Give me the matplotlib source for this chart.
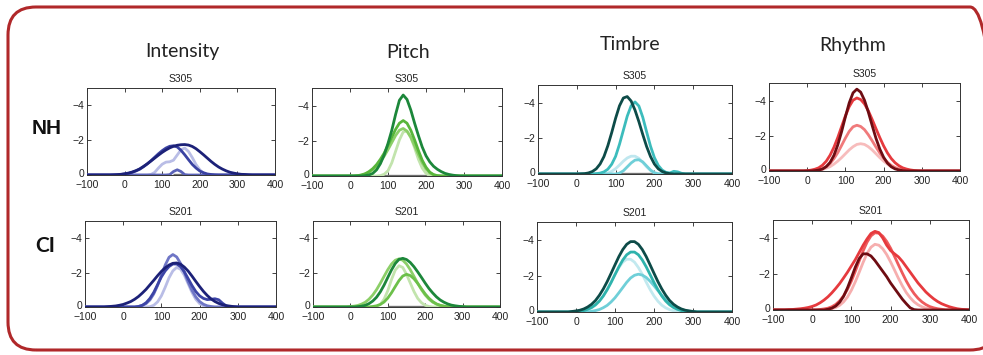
import matplotlib
matplotlib.use("Agg")
import matplotlib.pyplot as plt
from matplotlib.patches import FancyBboxPatch
from matplotlib.transforms import IdentityTransform, ScaledTranslation

# ---------------- data ----------------
X = list(range(-100, 410, 10))  # latency (ms)
Z10 = [0] * 10

COLUMNS = ["Intensity", "Pitch", "Timbre", "Rhythm"]
ROWS = ["NH", "CI"]
SUBJECTS = ["S305", "S201"]

# Intensity, NH (S305): light -> dark
I_NH_1 = Z10 + [0, 0, 0, 0, 0, 0, 0, 0.03, 0.15, 0.4] + [0.62, 0.74, 0.76, 0.85, 1.15, 1.45, 1.55, 1.35, 1.0, 0.6] + [0.3, 0.1, 0.02, 0, 0, 0, 0, 0, 0, 0] + Z10 + [0]
I_NH_2 = Z10 + Z10 + [0, 0, 0.02, 0.2, 0.3, 0.2, 0.02, 0, 0, 0] + Z10 + Z10 + [0]
I_NH_3 = [0, 0, 0, 0, 0, 0, 0, 0, 0.01, 0.03] + [0.06, 0.09, 0.15, 0.23, 0.33, 0.47, 0.63, 0.82, 1.02, 1.22] + [1.40, 1.55, 1.65, 1.68, 1.61, 1.42, 1.16, 0.88, 0.61, 0.40] + [0.23, 0.13, 0.06, 0.03, 0.01, 0, 0, 0, 0, 0] + Z10 + [0]
I_NH_4 = [0, 0, 0, 0, 0, 0, 0, 0.01, 0.02, 0.04] + [0.07, 0.11, 0.17, 0.25, 0.35, 0.49, 0.64, 0.8, 0.97, 1.14] + [1.3, 1.44, 1.56, 1.65, 1.71, 1.74, 1.75, 1.72, 1.64, 1.51] + [1.34, 1.16, 0.97, 0.78, 0.61, 0.46, 0.34, 0.24, 0.16, 0.11] + [0.07, 0.04, 0.03, 0.01, 0, 0, 0, 0, 0, 0] + [0]

# Intensity, CI (S201)
I_CI_1 = Z10 + [0, 0, 0, 0, 0, 0, 0, 0.02, 0.1, 0.3] + [0.65, 1.15, 1.7, 2.1, 2.3, 2.2, 1.85, 1.35, 0.85, 0.45] + [0.2, 0.07, 0.02, 0, 0, 0, 0, 0, 0, 0] + Z10 + [0]
I_CI_2 = Z10 + [0, 0, 0, 0, 0.03, 0.09, 0.2, 0.41, 0.76, 1.25] + [1.85, 2.44, 2.89, 3.05, 2.91, 2.54, 2.02, 1.46, 0.97, 0.59] + [0.32, 0.16, 0.07, 0.03, 0, 0, 0, 0, 0, 0] + Z10 + [0]
I_CI_3 = Z10 + [0, 0, 0, 0, 0.03, 0.1, 0.25, 0.5, 0.85, 1.3] + [1.75, 2.1, 2.35, 2.5, 2.5, 2.35, 2.05, 1.65, 1.25, 0.9] + [0.65, 0.5, 0.43, 0.45, 0.48, 0.42, 0.22, 0.06, 0.01, 0] + Z10 + [0]
I_CI_4 = [0, 0, 0, 0, 0, 0, 0.02, 0.04, 0.06, 0.10] + [0.15, 0.23, 0.32, 0.45, 0.61, 0.81, 1.03, 1.29, 1.55, 1.82] + [2.07, 2.28, 2.44, 2.54, 2.56, 2.49, 2.32, 2.09, 1.80, 1.49] + [1.19, 0.91, 0.67, 0.47, 0.32, 0.21, 0.13, 0.08, 0.05, 0.02] + Z10 + [0]

# Pitch, NH
P_NH_1 = Z10 + [0, 0, 0, 0, 0, 0, 0, 0, 0.02, 0.1] + [0.3, 0.75, 1.4, 2.05, 2.5, 2.55, 2.2, 1.6, 0.95, 0.45] + [0.15, 0.03, 0, 0, 0, 0, 0, 0, 0, 0] + Z10 + [0]
P_NH_2 = Z10 + [0, 0, 0.02, 0.05, 0.11, 0.21, 0.36, 0.56, 0.82, 1.13] + [1.5, 1.9, 2.3, 2.6, 2.7, 2.55, 2.2, 1.72, 1.22, 0.76] + [0.4, 0.17, 0.06, 0.01, 0, 0, 0, 0, 0, 0] + Z10 + [0]
P_NH_3 = Z10 + [0, 0, 0.02, 0.06, 0.13, 0.25, 0.42, 0.65, 0.95, 1.3] + [1.75, 2.2, 2.65, 3.0, 3.15, 3.0, 2.6, 2.05, 1.45, 0.9] + [0.5, 0.22, 0.08, 0.02, 0, 0, 0, 0, 0, 0] + Z10 + [0]
P_NH_4 = Z10 + [0, 0, 0, 0, 0.02, 0.06, 0.15, 0.35, 0.7, 1.2] + [1.85, 2.6, 3.5, 4.3, 4.6, 4.35, 3.75, 3.0, 2.3, 1.65] + [1.15, 0.8, 0.55, 0.38, 0.25, 0.15, 0.09, 0.05, 0.02, 0] + Z10 + [0]

# Pitch, CI
P_CI_1 = Z10 + [0, 0, 0, 0, 0, 0, 0, 0.03, 0.15, 0.45] + [0.95, 1.6, 2.15, 2.4, 2.3, 1.9, 1.4, 0.9, 0.5, 0.25] + [0.1, 0.03, 0, 0, 0, 0, 0, 0, 0, 0] + Z10 + [0]
P_CI_2 = Z10 + [0.03, 0.05, 0.09, 0.17, 0.28, 0.46, 0.70, 1.01, 1.38, 1.78] + [2.17, 2.50, 2.72, 2.8, 2.72, 2.50, 2.17, 1.78, 1.38, 1.01] + [0.70, 0.46, 0.28, 0.17, 0.09, 0.05, 0.02, 0, 0, 0] + Z10 + [0]
P_CI_3 = Z10 + [0, 0, 0, 0, 0, 0, 0.03, 0.07, 0.15, 0.29] + [0.52, 0.83, 1.19, 1.54, 1.80, 1.9, 1.83, 1.64, 1.37, 1.06] + [0.76, 0.51, 0.32, 0.18, 0.10, 0.05, 0.02, 0, 0, 0] + Z10 + [0]
P_CI_4 = Z10 + [0, 0, 0.02, 0.05, 0.10, 0.20, 0.35, 0.57, 0.88, 1.27] + [1.72, 2.16, 2.53, 2.77, 2.83, 2.76, 2.59, 2.34, 2.04, 1.72] + [1.39, 1.08, 0.82, 0.59, 0.41, 0.28, 0.18, 0.11, 0.07, 0.04] + [0.02, 0, 0, 0, 0, 0, 0, 0, 0, 0] + [0]

# Timbre, NH
T_NH_1 = Z10 + [0, 0, 0, 0, 0, 0, 0, 0, 0.05, 0.15] + [0.3, 0.5, 0.72, 0.9, 1.0, 1.0, 0.88, 0.65, 0.4, 0.2] + [0.07, 0.02, 0, 0, 0, 0, 0, 0, 0, 0] + Z10 + [0]
T_NH_2 = Z10 + Z10 + [0, 0.05, 0.18, 0.4, 0.62, 0.78, 0.8, 0.68, 0.45, 0.22] + [0.07, 0.01, 0, 0, 0, 0, 0, 0, 0, 0] + Z10 + [0]
T_NH_3 = Z10 + [0, 0, 0, 0, 0, 0.02, 0.05, 0.12, 0.27, 0.55] + [0.99, 1.67, 2.46, 3.25, 3.83, 4.05, 3.82, 3.19, 2.36, 1.56] + [0.92, 0.48, 0.22, 0.09, 0.06, 0.15, 0.12, 0.04, 0, 0] + Z10 + [0]
T_NH_4 = Z10 + [0, 0.01, 0.02, 0.06, 0.14, 0.29, 0.56, 0.98, 1.59, 2.33] + [3.13, 3.83, 4.27, 4.35, 4.10, 3.59, 2.94, 2.22, 1.54, 0.98] + [0.56, 0.29, 0.14, 0.06, 0.02, 0, 0, 0, 0, 0] + Z10 + [0]

# Timbre, CI
T_CI_1 = Z10 + [0.02, 0.03, 0.07, 0.13, 0.23, 0.38, 0.60, 0.89, 1.25, 1.66] + [2.09, 2.47, 2.77, 2.93, 2.93, 2.77, 2.47, 2.09, 1.66, 1.25] + [0.89, 0.60, 0.38, 0.23, 0.13, 0.07, 0.03, 0.01, 0, 0] + Z10 + [0]
T_CI_2 = Z10 + [0, 0, 0, 0, 0.04, 0.08, 0.14, 0.24, 0.37, 0.56] + [0.79, 1.07, 1.36, 1.65, 1.89, 2.04, 2.1, 2.05, 1.92, 1.71] + [1.46, 1.19, 0.93, 0.69, 0.49, 0.34, 0.22, 0.14, 0.08, 0.05] + [0.02, 0, 0, 0, 0, 0, 0, 0, 0, 0] + [0]
T_CI_3 = Z10 + [0, 0.04, 0.08, 0.15, 0.25, 0.40, 0.61, 0.89, 1.24, 1.64] + [2.08, 2.51, 2.89, 3.18, 3.33, 3.33, 3.18, 2.89, 2.51, 2.08] + [1.64, 1.24, 0.89, 0.61, 0.40, 0.25, 0.15, 0.08, 0.04, 0.02] + Z10 + [0]
T_CI_4 = [0, 0, 0, 0, 0, 0, 0, 0, 0, 0.03] + [0.06, 0.10, 0.17, 0.28, 0.43, 0.64, 0.93, 1.28, 1.69, 2.15] + [2.62, 3.08, 3.47, 3.76, 3.91, 3.91, 3.76, 3.47, 3.08, 2.62] + [2.15, 1.69, 1.28, 0.93, 0.64, 0.43, 0.28, 0.17, 0.10, 0.06] + [0.03, 0, 0, 0, 0, 0, 0, 0, 0, 0] + [0]

# Rhythm, NH
R_NH_1 = Z10 + [0, 0, 0.03, 0.05, 0.09, 0.16, 0.25, 0.39, 0.56, 0.76] + [0.98, 1.20, 1.38, 1.51, 1.55, 1.51, 1.38, 1.20, 0.98, 0.76] + [0.56, 0.39, 0.25, 0.16, 0.09, 0.05, 0.03, 0, 0, 0] + Z10 + [0]
R_NH_2 = Z10 + [0, 0, 0.03, 0.07, 0.14, 0.25, 0.43, 0.70, 1.04, 1.45] + [1.87, 2.25, 2.51, 2.6, 2.53, 2.35, 2.06, 1.72, 1.36, 1.02] + [0.73, 0.50, 0.32, 0.20, 0.11, 0.06, 0.03, 0, 0, 0] + Z10 + [0]
R_NH_3 = Z10 + [0.02, 0.05, 0.10, 0.18, 0.33, 0.56, 0.90, 1.35, 1.90, 2.52] + [3.13, 3.66, 4.02, 4.15, 4.06, 3.81, 3.42, 2.93, 2.41, 1.90] + [1.43, 1.03, 0.71, 0.47, 0.30, 0.18, 0.11, 0.06, 0.03, 0.01] + Z10 + [0]
R_NH_4 = Z10 + [0, 0, 0.02, 0.05, 0.11, 0.25, 0.49, 0.89, 1.48, 2.23] + [3.08, 3.87, 4.44, 4.65, 4.48, 4.02, 3.35, 2.59, 1.86, 1.25] + [0.78, 0.45, 0.24, 0.12, 0.06, 0.02, 0, 0, 0, 0] + Z10 + [0]

# Rhythm, CI
R_CI_1 = Z10 + [0, 0, 0, 0, 0, 0.07, 0.14, 0.26, 0.45, 0.72] + [1.10, 1.57, 2.10, 2.65, 3.14, 3.49, 3.65, 3.60, 3.40, 3.08] + [2.67, 2.22, 1.76, 1.34, 0.97, 0.68, 0.45, 0.29, 0.18, 0.10] + [0.06, 0.02, 0, 0, 0, 0, 0, 0, 0, 0] + [0]
R_CI_2 = Z10 + [0, 0, 0.03, 0.06, 0.10, 0.18, 0.31, 0.51, 0.78, 1.15] + [1.61, 2.15, 2.73, 3.29, 3.77, 4.12, 4.29, 4.27, 4.10, 3.81] + [3.43, 2.98, 2.51, 2.05, 1.61, 1.23, 0.91, 0.65, 0.45, 0.30] + [0.19, 0.12, 0.07, 0.04, 0, 0, 0, 0, 0, 0] + [0]
R_CI_3 = [0, 0, 0, 0, 0.02, 0.03, 0.05, 0.07, 0.10, 0.14] + [0.2, 0.28, 0.4, 0.55, 0.73, 0.95, 1.2, 1.47, 1.78, 2.1] + [2.45, 2.8, 3.2, 3.6, 3.95, 4.25, 4.37, 4.3, 4.0, 3.6] + [3.3, 3.12, 2.95, 2.7, 2.4, 2.1, 1.8, 1.5, 1.25, 1.0] + [0.8, 0.62, 0.47, 0.35, 0.26, 0.18, 0.12, 0.07, 0.04, 0.02] + [0]
R_CI_4 = Z10 + [0, 0, 0, 0, 0.04, 0.10, 0.22, 0.43, 0.76, 1.23] + [1.79, 2.38, 2.86, 3.12, 3.12, 3.0, 2.75, 2.45, 2.15, 1.85] + [1.5, 1.2, 0.9, 0.6, 0.35, 0.12, 0.02, 0, 0, 0] + Z10 + [0]

# grey window on the baseline (start, end) per panel; None = no window
WIN_NH = [(129, 156), (87, 203), (111, 196), None]
WIN_CI = [None, (100, 202), None, None]

PANELS = [
    [[I_NH_1, I_NH_2, I_NH_3, I_NH_4], [P_NH_1, P_NH_2, P_NH_3, P_NH_4],
     [T_NH_1, T_NH_2, T_NH_3, T_NH_4], [R_NH_1, R_NH_2, R_NH_3, R_NH_4]],
    [[I_CI_1, I_CI_2, I_CI_3, I_CI_4], [P_CI_1, P_CI_2, P_CI_3, P_CI_4],
     [T_CI_1, T_CI_2, T_CI_3, T_CI_4], [R_CI_1, R_CI_2, R_CI_3, R_CI_4]],
]
WINDOWS = [WIN_NH, WIN_CI]

# ---------------- style ----------------
COLORS_NH = [
    ["#b9bde6", "#5a62b8", "#3a42a2", "#1c2178"],
    ["#c2e4ad", "#8ccf68", "#58b63a", "#1c873a"],
    ["#bfe7ef", "#6fcfd8", "#3cbcbc", "#0d4b48"],
    ["#f7bcbc", "#f07a7b", "#e63a3e", "#6e0c12"],
]
COLORS_CI = [
    ["#b9bde6", "#6f76c6", "#3c44a6", "#1c2178"],
    ["#c2e4ad", "#8ccf68", "#6cc04a", "#1c873a"],
    ["#c2e9ef", "#6fcfd8", "#2fb3ac", "#0d4b48"],
    ["#f6aeae", "#ee5a5c", "#e63a3e", "#6e0c12"],
]
COLORS = [COLORS_NH, COLORS_CI]

W, H = 983, 355
# axes boxes in pixel coords (left, top, right, bottom)
BOX = [
    [(87, 88, 275, 175), (312, 88, 502, 176), (538, 85, 732, 174), (769, 83, 960, 171)],
    [(85, 221, 276, 307), (313, 221, 500, 307), (537, 222, 732, 312), (773, 220, 969, 310)],
]
COL_TITLE_POS = [(182, 52), (408, 52), (630, 45), (853, 45)]

fig = plt.figure(figsize=(W / 100, H / 100), dpi=100)
fig.patch.set_facecolor("white")

# rounded red frame
frame = FancyBboxPatch((8, 5), 990, 343, boxstyle="round,pad=0,rounding_size=28",
                       transform=IdentityTransform(), fill=False,
                       edgecolor="#b0282a", linewidth=2.2)
fig.add_artist(frame)

tick_font = "Liberation Sans"
for r in range(2):
    for c in range(4):
        l, t, rr, b = BOX[r][c]
        ax = fig.add_axes([l / W, 1 - b / H, (rr - l) / W, (b - t) / H])
        win = WINDOWS[r][c]
        if win is not None:
            ax.plot([win[0], win[1]], [0, 0], color="#707070", lw=2.4,
                    solid_capstyle="butt", zorder=2)
        for k, ys in enumerate(PANELS[r][c]):
            assert len(ys) == len(X)
            ax.plot(X, [-v for v in ys], color=COLORS[r][c][k], lw=2.0,
                    solid_capstyle="round", zorder=3 + k)
        ax.set_xlim(-100, 400)
        ax.set_ylim(0, -5)
        ax.set_xticks(range(-100, 401, 100))
        ax.set_yticks([0, -2, -4])
        ax.tick_params(direction="in", length=3, width=0.6, top=True, right=True,
                       labelsize=7.5, colors="#222222")
        ax.tick_params(axis="x", pad=3.5)
        ax.tick_params(axis="y", pad=2)
        for lab in ax.get_xticklabels() + ax.get_yticklabels():
            lab.set_fontfamily(tick_font)
        # lift the "0" label slightly, as in the reference
        ylabs = ax.get_yticklabels()
        ylabs[0].set_transform(ylabs[0].get_transform() +
                               ScaledTranslation(0, 1.5 / 72, fig.dpi_scale_trans))
        for s in ax.spines.values():
            s.set_linewidth(0.7)
            s.set_color("#333333")
        ax.set_title(SUBJECTS[r], fontsize=7.5, family=tick_font, pad=4, color="#222222")

for c, name in enumerate(COLUMNS):
    x, y = COL_TITLE_POS[c]
    fig.text(x / W, 1 - y / H, name, ha="center", va="center", fontsize=14,
             family="Lato", color="#222222")

fig.text(47 / W, 1 - 128 / H, ROWS[0], ha="center", va="center", fontsize=15,
         family="Liberation Sans", fontweight="bold", color="#111111")
fig.text(45 / W, 1 - 246 / H, ROWS[1], ha="center", va="center", fontsize=15,
         family="Lato", fontweight="bold", color="#111111")

fig.savefig("out.png", dpi=100, facecolor="white")
